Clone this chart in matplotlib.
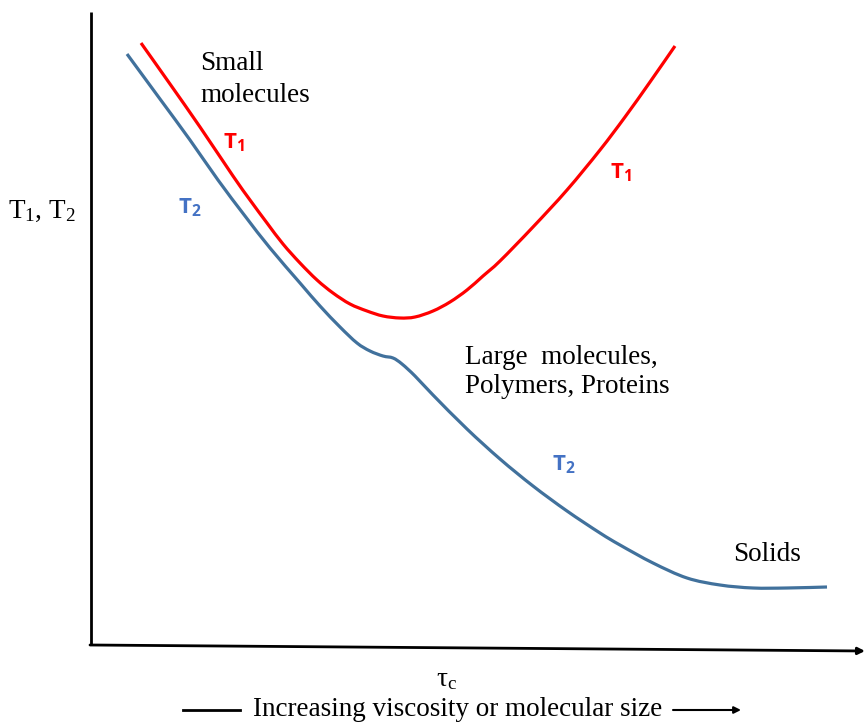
import numpy as np
import matplotlib
matplotlib.use("Agg")
import matplotlib.pyplot as plt
from matplotlib.path import Path
from matplotlib.patches import PathPatch

plt.rcParams['mathtext.fontset'] = 'custom'
plt.rcParams['mathtext.rm'] = 'Liberation Serif'
plt.rcParams['mathtext.it'] = 'Liberation Serif'
plt.rcParams['mathtext.bf'] = 'Open Sans:bold'

# curve points (pixel coords, y down)
t1_x = [141, 170, 200, 233, 250, 267, 283, 300, 317, 333, 350, 367, 383, 400,
        415, 433, 450, 467, 483, 500, 533, 567, 600, 625, 650, 675]
t1_y = [43, 84, 127, 176, 200, 223, 244, 263, 280, 293, 304, 311, 316, 318,
        317, 311, 302, 290, 276, 261, 227, 190, 150, 117, 82, 46]

t2_x = [127, 160, 190, 218, 245, 270, 300, 320, 340, 357, 370, 383, 393, 402,
        415, 433, 467, 500, 533, 567, 600, 620, 653, 687, 720, 753, 787, 827]
t2_y = [54, 99, 140, 180, 216, 248, 283, 306, 327, 343, 351, 356, 358, 364,
        376, 395, 429, 459, 486, 511, 533, 545, 563, 578, 585, 588, 588, 587]

red = '#FF0000'
blue_line = '#41719C'
blue_txt = '#4472C4'
serif = 'Liberation Serif'


def smooth(xs, ys):
    # catmull-rom through the points, drawn as bezier segments
    p = np.column_stack([xs, ys]).astype(float)
    p = np.vstack([p[0], p, p[-1]])
    verts = [p[1]]
    codes = [Path.MOVETO]
    for i in range(1, len(p) - 2):
        c1 = p[i] + (p[i + 1] - p[i - 1]) / 6
        c2 = p[i + 1] - (p[i + 2] - p[i]) / 6
        verts += [c1, c2, p[i + 1]]
        codes += [Path.CURVE4] * 3
    return Path(verts, codes)


fig = plt.figure(figsize=(8.65, 7.24), dpi=100)
ax = fig.add_axes([0, 0, 1, 1])
ax.set_xlim(0, 865)
ax.set_ylim(724, 0)
ax.axis('off')

# axes
ax.plot([91, 91], [12, 645], color='black', lw=2, solid_capstyle='butt')
ax.annotate('', xy=(865, 651), xytext=(90, 645),
            arrowprops=dict(arrowstyle='-|>', color='black', lw=2,
                            mutation_scale=10, shrinkA=0, shrinkB=0))

ax.add_patch(PathPatch(smooth(t1_x, t1_y), fill=False, edgecolor=red, lw=2.3))
ax.add_patch(PathPatch(smooth(t2_x, t2_y), fill=False, edgecolor=blue_line, lw=2.3))

# labels
fs = 19.5
ax.text(200, 70, 'Small', fontsize=fs, family=serif)
ax.text(200, 102, 'molecules', fontsize=fs, family=serif)
ax.text(465, 364, 'Large  molecules,', fontsize=fs, family=serif)
ax.text(465, 393, 'Polymers, Proteins', fontsize=fs, family=serif)
ax.text(733, 561, 'Solids', fontsize=fs, family=serif)
ax.text(8, 218, 'T$_1$, T$_2$', fontsize=fs, family=serif)
ax.text(436, 686, 'τ$_\\mathrm{c}$', fontsize=fs, family=serif)
ax.text(253, 716, 'Increasing viscosity or molecular size', fontsize=fs, family=serif)
ax.plot([183, 240], [710, 710], color='black', lw=2)
ax.annotate('', xy=(741, 710), xytext=(673, 710),
            arrowprops=dict(arrowstyle='-|>', color='black', lw=1.5,
                            mutation_scale=10, shrinkA=0, shrinkB=0))

lab = dict(fontsize=16, family='Open Sans', fontweight='bold')
ax.text(223, 148, 'T$_\\mathbf{1}$', color=red, **lab)
ax.text(610, 178, 'T$_\\mathbf{1}$', color=red, **lab)
ax.text(178, 213, 'T$_\\mathbf{2}$', color=blue_txt, **lab)
ax.text(552, 470, 'T$_\\mathbf{2}$', color=blue_txt, **lab)

fig.savefig('out.png', dpi=100)
